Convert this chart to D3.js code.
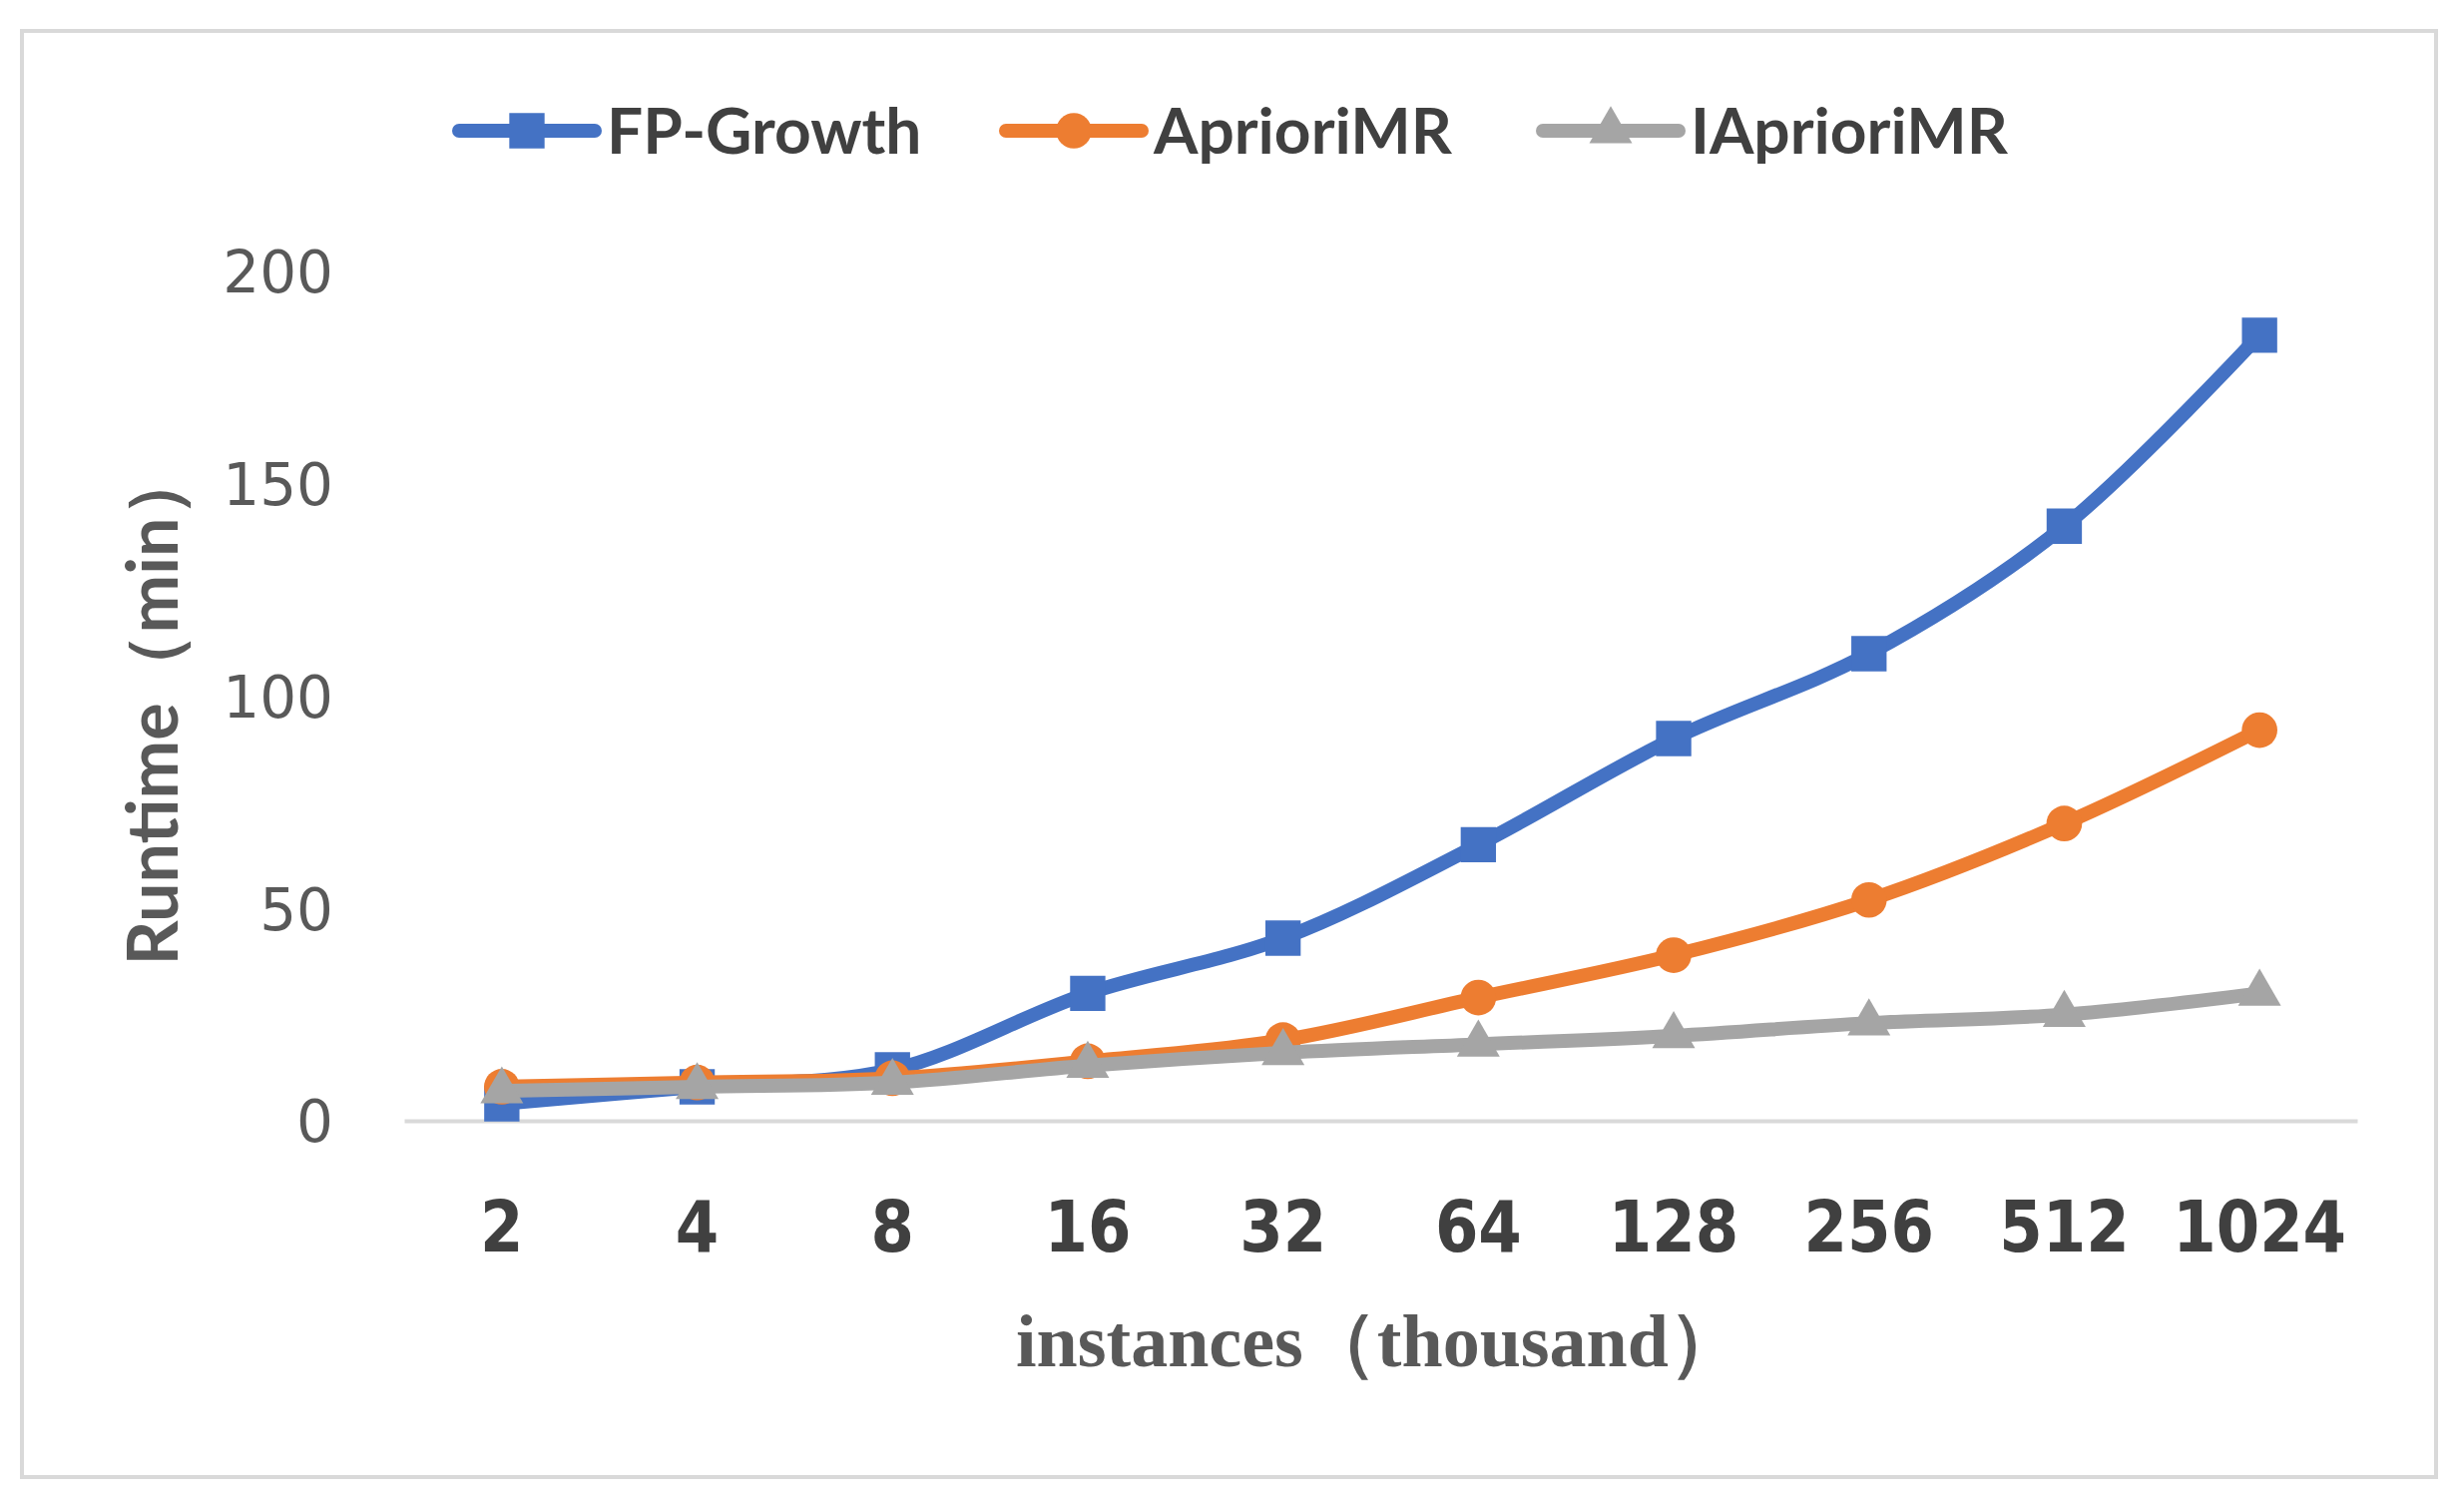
<!DOCTYPE html>
<html>
<head>
<meta charset="utf-8">
<script src="https://cdn.jsdelivr.net/npm/d3@7"></script>
<style>
  body { margin: 0; background: #fff; }
</style>
</head>
<body>
<div id="chart"></div>
<script>
// Data
const categories = ["2", "4", "8", "16", "32", "64", "128", "256", "512", "1024"];
const fpGrowth = [4, 8, 12, 30, 43, 65, 90, 110, 140, 185];
const aprioriMR = [8, 9, 10, 14, 19, 29, 39, 52, 70, 92];
const iAprioriMR = [7, 8, 9, 13, 16, 18, 20, 23, 25, 30];
const yTicks = [0, 50, 100, 150, 200];
const seriesNames = ["FP-Growth", "AprioriMR", "IAprioriMR"];

const width = 2469;
const height = 1503;
const plot = { left: 405, right: 2362, top: 272, bottom: 1123 };

const colors = ["#4472C4", "#ED7D31", "#A5A5A5"];
const symbols = [d3.symbolSquare, d3.symbolCircle, d3.symbolTriangle];
const symbolSizes = [1250, 1000, 800];

const series = [fpGrowth, aprioriMR, iAprioriMR].map((values, i) => ({
  name: seriesNames[i],
  values: values,
  color: colors[i],
  symbol: symbols[i],
  size: symbolSizes[i],
}));

const svg = d3
  .select("#chart")
  .append("svg")
  .attr("width", width)
  .attr("height", height);

svg
  .append("rect")
  .attr("x", 22)
  .attr("y", 31)
  .attr("width", 2419)
  .attr("height", 1449)
  .attr("fill", "#fff")
  .attr("stroke", "#D9D9D9")
  .attr("stroke-width", 4);

// Scales
const xScale = d3
  .scaleBand()
  .domain(categories)
  .range([plot.left, plot.right]);
const xPos = (c) => xScale(c) + xScale.bandwidth() / 2;

const yScale = d3
  .scaleLinear()
  .domain([0, 200])
  .range([plot.bottom, plot.top]);

// Y axis (labels only)
const yAxis = d3.axisLeft(yScale).tickValues(yTicks).tickSize(0).tickPadding(0);
const yG = svg
  .append("g")
  .attr("transform", "translate(334,0)")
  .call(yAxis);
yG.select(".domain").remove();
yG.selectAll("text")
  .attr("font-family", "'DejaVu Sans', Verdana, sans-serif")
  .attr("font-size", 58)
  .attr("fill", "#595959")
  .attr("dy", "0.36em");

// X axis (baseline + labels)
const xAxis = d3.axisBottom(xScale).tickSize(0).tickPadding(0);
const xG = svg
  .append("g")
  .attr("transform", "translate(0," + plot.bottom + ")")
  .call(xAxis);
xG.select(".domain")
  .attr("stroke", "#D9D9D9")
  .attr("stroke-width", 4);
// narrow bold labels, close to the condensed face of the original
xG.selectAll("text")
  .attr("font-family", "'DejaVu Sans', sans-serif")
  .attr("font-weight", "bold")
  .attr("font-size", 71)
  .attr("fill", "#404040")
  .attr("y", 105)
  .attr("dy", "0.36em")
  .attr("transform", "scale(0.88,1)");

// Lines
const line = d3
  .line()
  .x((d, i) => xPos(categories[i]))
  .y((d) => yScale(d))
  .curve(d3.curveCatmullRom.alpha(0.5));

series.forEach((s) => {
  svg
    .append("path")
    .attr("d", line(s.values))
    .attr("fill", "none")
    .attr("stroke", s.color)
    .attr("stroke-width", 14)
    .attr("stroke-linecap", "round")
    .attr("stroke-linejoin", "round");

  svg
    .append("g")
    .selectAll("path")
    .data(s.values)
    .enter()
    .append("path")
    .attr("d", d3.symbol().type(s.symbol).size(s.size))
    .attr("transform", (d, i) => "translate(" + xPos(categories[i]) + "," + yScale(d) + ")")
    .attr("fill", s.color);
});

// Axis titles
svg
  .append("text")
  .attr("x", 1382)
  .attr("y", 1342)
  .attr("dy", "0.36em")
  .attr("text-anchor", "middle")
  .attr("font-family", "'Liberation Serif', 'Times New Roman', serif")
  .attr("font-weight", "bold")
  .attr("font-size", 74)
  .attr("fill", "#595959")
  .text("instances（thousand）");

svg
  .append("text")
  .attr("transform", "translate(153,708) rotate(-90)")
  .attr("dy", "0.36em")
  .attr("text-anchor", "middle")
  .attr("font-family", "Lato, 'Open Sans', sans-serif")
  .attr("font-weight", "bold")
  .attr("font-size", 70)
  .attr("fill", "#595959")
  .text("Runtime（min）");

// Legend
const legendX = [460, 1008, 1546];
const legendY = 131;
const legend = svg
  .append("g")
  .selectAll("g")
  .data(series)
  .enter()
  .append("g")
  .attr("transform", (d, i) => "translate(" + legendX[i] + "," + legendY + ")");

legend
  .append("line")
  .attr("x1", 0)
  .attr("x2", 136)
  .attr("stroke", (d) => d.color)
  .attr("stroke-width", 14)
  .attr("stroke-linecap", "round");

legend
  .append("path")
  .attr("d", (d) => d3.symbol().type(d.symbol).size(d.size)())
  .attr("transform", "translate(68,0)")
  .attr("fill", (d) => d.color);

legend
  .append("text")
  .attr("x", 148)
  .attr("dy", "0.36em")
  .attr("font-family", "Lato, 'Open Sans', sans-serif")
  .attr("font-weight", "bold")
  .attr("font-size", 64)
  .attr("fill", "#404040")
  .text((d) => d.name);
</script>
</body>
</html>
